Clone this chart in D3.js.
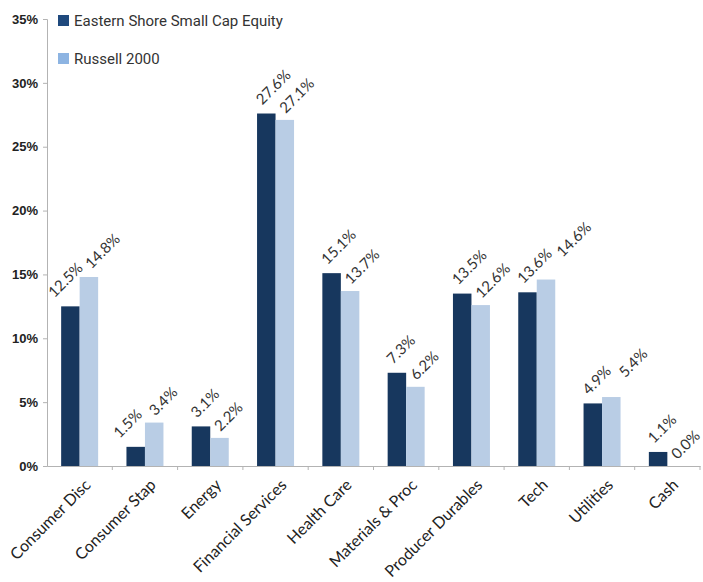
<!DOCTYPE html>
<html>
<head>
<meta charset="utf-8">
<script src="https://cdn.jsdelivr.net/npm/d3@7"></script>
<style>
  html, body { margin: 0; padding: 0; background: #fff; }
</style>
</head>
<body>
<div id="chart"></div>
<script>
// data
const categories = ['Consumer Disc', 'Consumer Stap', 'Energy', 'Financial Services', 'Health Care',
  'Materials & Proc', 'Producer Durables', 'Tech', 'Utilities', 'Cash'];
const seriesNames = ['Eastern Shore Small Cap Equity', 'Russell 2000'];
const easternShore = [12.5, 1.5, 3.1, 27.6, 15.1, 7.3, 13.5, 13.6, 4.9, 1.1];
const russell2000 = [14.8, 3.4, 2.2, 27.1, 13.7, 6.2, 12.6, 14.6, 5.4, 0.0];
const yTicks = [0, 5, 10, 15, 20, 25, 30, 35];

const W = 703, H = 582;
const barColors = ['#17375e', '#b9cde5'];
const legendColors = ['#1f497d', '#8db4e2'];
const axisColor = '#b3b3b3';

const svg = d3.select('#chart').append('svg')
  .attr('width', W).attr('height', H);

const x0 = d3.scaleBand().domain(categories).range([47, 700]);
const x1 = d3.scaleBand().domain(seriesNames).range([0, x0.bandwidth()])
  .paddingOuter(0.765);
const y = d3.scaleLinear().domain([0, 35]).range([466, 19]);

// y axis
const yAxis = svg.append('g').attr('transform', 'translate(47,0)')
  .call(d3.axisLeft(y).tickValues(yTicks).tickSize(4).tickFormat(d => d + '%'));
yAxis.select('.domain').attr('stroke', axisColor);
yAxis.selectAll('.tick line').attr('stroke', axisColor);
yAxis.selectAll('.tick text')
  .attr('x', -9)
  .attr('fill', '#222')
  .style('font-family', '"Liberation Sans", Arial, sans-serif')
  .style('font-size', '13px')
  .style('font-weight', 'bold');

// x axis
const xAxis = svg.append('g').attr('transform', 'translate(0,466)')
  .call(d3.axisBottom(x0).tickSize(0).tickFormat(''));
xAxis.select('.domain').attr('stroke', axisColor);
svg.append('g').selectAll('line')
  .data(categories)
  .join('line')
  .attr('x1', d => x0(d) + x0.step())
  .attr('x2', d => x0(d) + x0.step())
  .attr('y1', 466).attr('y2', 470)
  .attr('stroke', axisColor);

// category labels
svg.append('g').selectAll('text')
  .data(categories)
  .join('text')
  .attr('transform', d => `translate(${x0(d) + x0.bandwidth() / 2 + 12},486) rotate(-45)`)
  .attr('text-anchor', 'end')
  .attr('fill', '#222')
  .style('font-family', 'Lato, "Open Sans", sans-serif')
  .style('font-size', '16px')
  .text(d => d);

// bars
const rows = categories.map((c, i) => ({ cat: c, vals: [easternShore[i], russell2000[i]] }));
const groups = svg.append('g').selectAll('g')
  .data(rows)
  .join('g')
  .attr('transform', d => `translate(${x0(d.cat)},0)`);

const cells = d => d.vals.map((v, k) => ({ name: seriesNames[k], v, k, other: d.vals[1 - k] }));

groups.selectAll('rect')
  .data(cells)
  .join('rect')
  .attr('x', d => x1(d.name))
  .attr('y', d => y(d.v))
  .attr('width', x1.bandwidth())
  .attr('height', d => y(0) - y(d.v))
  .attr('fill', d => barColors[d.k]);

// value labels, the first one pushed left when the second bar is clearly taller
function labelPos(d) {
  const cx = x1(d.name) + x1.bandwidth() / 2;
  if (d.k === 0) {
    const dx = d.other - d.v > 1.5 ? -16 : -4;
    return [cx + dx, y(d.v) - 8];
  }
  return [cx + 1, y(d.v) - 6];
}
const labels = groups.selectAll('text')
  .data(cells)
  .join('text')
  .each(d => { d.pos = labelPos(d); })
  .attr('fill', '#333')
  .style('font-family', 'Lato, "Open Sans", sans-serif')
  .style('font-size', '15px')
  .text(d => d.v.toFixed(1) + '%');

// if the two labels of a group run into each other, slide the second one along its own line
const r = Math.SQRT1_2;
groups.each(function () {
  const t = d3.select(this).selectAll('text').nodes();
  const a = d3.select(t[0]).datum(), b = d3.select(t[1]).datum();
  const len = t[0].getComputedTextLength();
  const dx = b.pos[0] - a.pos[0], dy = b.pos[1] - a.pos[1];
  const along = (dx - dy) * r, perp = (dx + dy) * r;
  if (Math.abs(perp) < 14 && along < len + 5) {
    const push = len + 5 - along;
    b.pos = [b.pos[0] + push * r, b.pos[1] - push * r];
  }
});
labels.attr('transform', d => `translate(${d.pos}) rotate(-45)`);

// legend
const legend = svg.append('g').selectAll('g')
  .data(seriesNames)
  .join('g')
  .attr('transform', (d, i) => `translate(58,${15 + i * 38})`);
legend.append('rect')
  .attr('width', 11).attr('height', 11)
  .attr('fill', (d, i) => legendColors[i]);
legend.append('text')
  .attr('x', 16).attr('y', 11)
  .attr('fill', '#333')
  .style('font-family', 'Roboto, "Liberation Sans", sans-serif')
  .style('font-size', '15px')
  .text(d => d);
</script>
</body>
</html>
